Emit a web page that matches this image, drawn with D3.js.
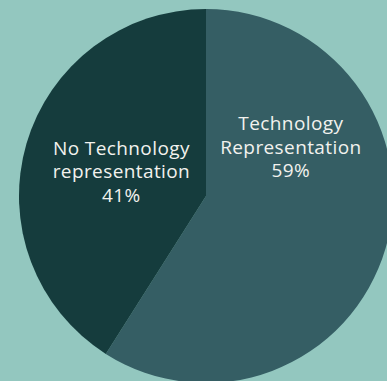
<!DOCTYPE html>
<html>
<head>
<meta charset="utf-8">
<script src="https://cdn.jsdelivr.net/npm/d3@7"></script>
<style>
  html, body { margin: 0; padding: 0; background: #93c7bf; }
  svg { display: block; }
</style>
</head>
<body>
<svg id="chart" width="387" height="381"></svg>
<script>
// Share of items with / without technology representation
const categories = ["Technology Representation", "No Technology representation"];
const labelLines = [["Technology", "Representation"], ["No Technology", "representation"]];
const values = [59, 41];
const colors = ["#355e64", "#153c3d"];

const W = 387, H = 381;
const cx = 206, cy = 196, radius = 187;

const svg = d3.select("#chart");
svg.append("rect").attr("width", W).attr("height", H).attr("fill", "#93c7bf");

const data = categories.map((c, i) => ({ name: c, value: values[i], lines: labelLines[i], color: colors[i] }));

const pie = d3.pie().value(d => d.value).sort(null);
const arc = d3.arc().innerRadius(0).outerRadius(radius);

const g = svg.append("g").attr("transform", `translate(${cx},${cy})`);
const arcs = pie(data);

g.selectAll("path.slice")
  .data(arcs)
  .join("path")
  .attr("class", "slice")
  .attr("d", arc)
  .attr("fill", d => d.data.color);

// label anchors: angle (deg, clockwise from 12 o'clock) and distance from centre
const labelPlacement = [{ angle: 60, dist: 98 }, { angle: 286, dist: 88 }];
const lineHeight = 23.5;

const labels = g.selectAll("text.label")
  .data(arcs)
  .join("text")
  .attr("class", "label")
  .attr("text-anchor", "middle")
  .attr("fill", "#f2f2ee")
  .style("font-family", "'Open Sans', sans-serif")
  .style("font-size", "19px")
  .style("letter-spacing", "0.4px")
  .attr("transform", (d, i) => {
    const a = labelPlacement[i].angle * Math.PI / 180;
    const r = labelPlacement[i].dist;
    return `translate(${r * Math.sin(a)},${-r * Math.cos(a)})`;
  });

labels.each(function(d) {
  const t = d3.select(this);
  const lines = d.data.lines.concat([d.data.value + "%"]);
  lines.forEach((ln, k) => {
    t.append("tspan")
      .attr("x", 0)
      .attr("y", (k - (lines.length - 1) / 2) * lineHeight)
      .attr("dy", "0.35em")
      .text(ln);
  });
});
</script>
</body>
</html>
